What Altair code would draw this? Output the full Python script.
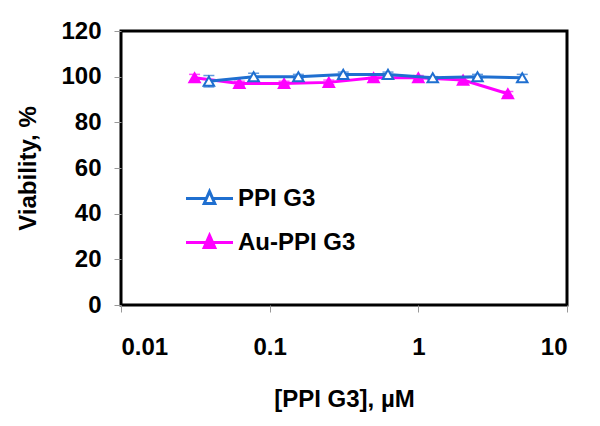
import altair as alt
import pandas as pd

series_names = ["PPI G3", "Au-PPI G3"]

ppi_x = [0.039, 0.078, 0.156, 0.3125, 0.625, 1.25, 2.5, 5.0]
ppi_y = [98.0, 100.0, 100.0, 101.0, 101.0, 99.5, 100.0, 99.5]
ppi_err = [2.5, 1.5, 1.0, 1.0, 1.0, 0.5, 1.0, 1.5]

au_x = [0.03125, 0.0625, 0.125, 0.25, 0.5, 1.0, 2.0, 4.0]
au_y = [99.5, 97.0, 97.0, 97.5, 99.5, 99.5, 98.5, 92.5]
au_err = [1.5, 1.0, 1.0, 1.0, 1.0, 1.0, 1.0, 1.0]

x_ticks = [0.01, 0.1, 1, 10]
y_ticks = [0, 20, 40, 60, 80, 100, 120]

rows = []
for xv, yv, ev in zip(au_x, au_y, au_err):
    rows.append(dict(series="Au-PPI G3", conc=xv, via=yv, lo=yv - ev, hi=yv + ev))
for xv, yv, ev in zip(ppi_x, ppi_y, ppi_err):
    rows.append(dict(series="PPI G3", conc=xv, via=yv, lo=yv - ev, hi=yv + ev))
df = pd.DataFrame(rows)

FONT = "Liberation Sans"
FS = 24
BLUE = "#1F6FD0"
MAG = "#FF00FF"
series_colors = [BLUE, MAG]

stroke_scale = alt.Scale(domain=series_names, range=series_colors)

# legend glyphs: line with open triangle / line with solid triangle
PPI_LEG = "M-2,0H-0.27M0.27,0H2M0,-0.6L0.45,0.42L-0.45,0.42Z"
AU_LEG = ("M-2,0H2M0,-0.6L0.45,0.42L-0.45,0.42Z"
          "M-0.09,-0.4H0.09M-0.18,-0.2H0.18M-0.27,0H0.27M-0.35,0.2H0.35")
shape_scale = alt.Scale(domain=series_names, range=[PPI_LEG, AU_LEG])

legend = alt.Legend(
    title=None, orient="none", legendX=75, legendY=154,
    symbolSize=552, symbolStrokeWidth=3, symbolFillColor="white", symbolOpacity=1,
    labelFont=FONT, labelFontSize=FS, labelFontWeight="bold", labelColor="black",
    rowPadding=18, labelOffset=15,
)

x_enc = alt.X("conc:Q", scale=alt.Scale(type="log", domain=[0.01, 10]),
              axis=alt.Axis(values=x_ticks, format="~g", title="[PPI G3], µM",
                            labelPadding=23, titlePadding=28))
y_enc = alt.Y("via:Q", scale=alt.Scale(domain=[0, 120]),
              axis=alt.Axis(values=y_ticks, title="Viability, %",
                            labelPadding=13, titlePadding=20))

base = alt.Chart(df)


def series_layers(name, color, fill):
    sub = base.transform_filter(alt.datum.series == name)
    line = sub.mark_line(strokeWidth=3, stroke=color).encode(
        x=x_enc, y=y_enc, order="conc:Q")
    err = sub.mark_errorbar(ticks={"size": 11}, thickness=1.5, color=color).encode(
        x=alt.X("conc:Q"), y=alt.Y("lo:Q", title="Viability, %"), y2="hi:Q")
    pts = sub.mark_point(shape="triangle-up", size=110, strokeWidth=2,
                         stroke=color, fill=fill, filled=False, opacity=1).encode(
        x=alt.X("conc:Q"), y=alt.Y("via:Q"))
    return [line, err, pts]


legend_layer = base.mark_point(size=552, opacity=0).encode(
    x=alt.X("conc:Q"), y=alt.Y("via:Q"),
    stroke=alt.Stroke("series:N", scale=stroke_scale, legend=legend),
    shape=alt.Shape("series:N", scale=shape_scale, legend=legend),
)

layers = (series_layers("Au-PPI G3", MAG, MAG)
          + series_layers("PPI G3", BLUE, "white")
          + [legend_layer])

chart = alt.layer(*layers).properties(
    width=446, height=274,
    autosize=alt.AutoSizeParams(type="none"),
    padding={"left": 113, "top": 23, "right": 25, "bottom": 113},
).configure_view(
    stroke="black", strokeWidth=3,
).configure_axis(
    grid=False, domain=False,
    labelFont=FONT, labelFontSize=FS, labelFontWeight="bold", labelColor="black",
    titleFont=FONT, titleFontSize=FS, titleFontWeight="bold", titleColor="black",
    tickColor="#999999", tickSize=7, tickWidth=1,
)

chart.save("out.html", embed_options={"renderer": "svg", "actions": False})
